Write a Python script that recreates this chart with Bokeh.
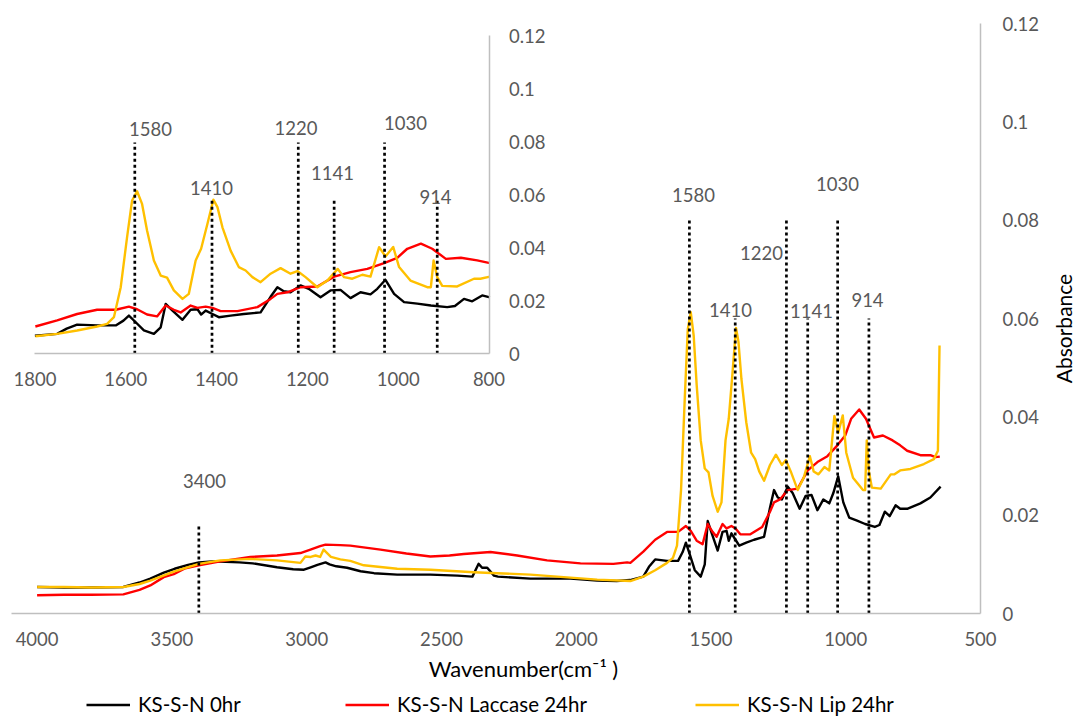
import math
from bokeh.plotting import figure
from bokeh.models import (Range1d, LinearAxis, FixedTicker, NumeralTickFormatter,
                          Label, Legend, LegendItem)
from bokeh.embed import file_html
from bokeh.resources import INLINE
from bokeh.core.properties import value

# ---------------- data ----------------
series_names = ["KS-S-N 0hr", "KS-S-N Laccase 24hr", "KS-S-N Lip 24hr"]

wn_0hr = [4000, 3900, 3800, 3680, 3620, 3580, 3530, 3490, 3440, 3400, 3350, 3300, 3250, 3200,
          3110, 3050, 3010, 2985, 2960, 2930, 2915, 2890, 2850, 2800, 2750, 2664, 2541, 2440,
          2385, 2362, 2349, 2330, 2305, 2290, 2170, 2021, 1922, 1850, 1800, 1751, 1730, 1707,
          1663, 1622, 1605, 1593, 1578, 1560, 1538, 1523, 1512, 1497, 1475, 1457, 1442, 1434,
          1424, 1409, 1395, 1369, 1340, 1303, 1281, 1266, 1252, 1237, 1215, 1197, 1171, 1149,
          1127, 1105, 1083, 1061, 1046, 1028, 1009, 987, 958, 928, 892, 875, 855, 837, 815,
          798, 772, 723, 686, 648]
abs_0hr = [0.0054, 0.0053, 0.0053, 0.0054, 0.0063, 0.0071, 0.0083, 0.0091, 0.0099, 0.0104,
           0.0106, 0.0105, 0.0104, 0.0102, 0.0094, 0.0090, 0.0089, 0.0094, 0.0099, 0.0104,
           0.0100, 0.0096, 0.0093, 0.0086, 0.0082, 0.0079, 0.0079, 0.0077, 0.0075, 0.0101,
           0.0093, 0.0093, 0.0077, 0.0075, 0.0071, 0.0071, 0.0067, 0.0066, 0.0068, 0.0075,
           0.0095, 0.0110, 0.0107, 0.0107, 0.0125, 0.0144, 0.0119, 0.0088, 0.0075, 0.0100,
           0.0188, 0.0163, 0.0128, 0.0166, 0.0168, 0.0148, 0.0163, 0.0150, 0.0138, 0.0144,
           0.0150, 0.0156, 0.0215, 0.0251, 0.0236, 0.0232, 0.0258, 0.0245, 0.0213, 0.0239,
           0.0241, 0.0210, 0.0232, 0.0224, 0.0245, 0.0279, 0.0226, 0.0195, 0.0189, 0.0182,
           0.0176, 0.0180, 0.0207, 0.0198, 0.0220, 0.0213, 0.0213, 0.0224, 0.0236, 0.0258]

wn_laccase = [4000, 3900, 3800, 3680, 3620, 3580, 3530, 3493, 3450, 3400, 3320, 3209, 3110,
              3023, 2986, 2950, 2930, 2875, 2838, 2726, 2630, 2541, 2470, 2417, 2318, 2219,
              2108, 1984, 1862, 1811, 1799, 1751, 1707, 1663, 1622, 1593, 1575, 1553, 1531,
              1512, 1494, 1479, 1457, 1442, 1424, 1409, 1391, 1354, 1310, 1281, 1266, 1244,
              1215, 1178, 1141, 1105, 1068, 1031, 1002, 980, 950, 925, 895, 862, 826, 798,
              772, 723, 686, 667, 651]
abs_laccase = [0.0037, 0.0038, 0.0038, 0.0039, 0.0048, 0.0057, 0.0074, 0.0080, 0.0092, 0.0098,
               0.0106, 0.0115, 0.0118, 0.0123, 0.0130, 0.0137, 0.0140, 0.0139, 0.0138, 0.0130,
               0.0122, 0.0116, 0.0118, 0.0121, 0.0125, 0.0118, 0.0108, 0.0102, 0.0101, 0.0104,
               0.0103, 0.0126, 0.0150, 0.0166, 0.0166, 0.0178, 0.0168, 0.0148, 0.0141, 0.0182,
               0.0166, 0.0156, 0.0182, 0.0173, 0.0178, 0.0173, 0.0161, 0.0161, 0.0176, 0.0207,
               0.0226, 0.0232, 0.0251, 0.0254, 0.0291, 0.0308, 0.0320, 0.0342, 0.0362, 0.0396,
               0.0415, 0.0396, 0.0358, 0.0362, 0.0352, 0.0342, 0.0331, 0.0322, 0.0322, 0.0318,
               0.0319]

wn_lip = [4000, 3900, 3800, 3680, 3620, 3580, 3493, 3400, 3320, 3209, 3110, 3023, 3005, 2985,
          2967, 2950, 2937, 2910, 2875, 2838, 2788, 2664, 2541, 2380, 2293, 2170, 2046, 1922,
          1799, 1751, 1707, 1663, 1641, 1626, 1611, 1597, 1586, 1575, 1564, 1553, 1538, 1523,
          1509, 1494, 1475, 1461, 1446, 1434, 1420, 1407, 1398, 1387, 1369, 1351, 1336, 1321,
          1303, 1281, 1259, 1237, 1222, 1204, 1178, 1156, 1133, 1119, 1101, 1079, 1061, 1042,
          1028, 1011, 998, 973, 936, 928, 922, 914, 903, 870, 833, 819, 798, 760, 710, 673,
          658, 652]
abs_lip = [0.0054, 0.0054, 0.0053, 0.0054, 0.0060, 0.0067, 0.0085, 0.0101, 0.0108, 0.0111,
           0.0108, 0.0103, 0.0116, 0.0115, 0.0118, 0.0115, 0.0130, 0.0115, 0.0110, 0.0107,
           0.0098, 0.0091, 0.0089, 0.0084, 0.0082, 0.0079, 0.0074, 0.0069, 0.0066, 0.0075,
           0.0088, 0.0103, 0.0113, 0.0138, 0.0251, 0.0440, 0.0578, 0.0613, 0.0565, 0.0465,
           0.0352, 0.0295, 0.0287, 0.0239, 0.0207, 0.0226, 0.0352, 0.0396, 0.0490, 0.0581,
           0.0553, 0.0477, 0.0389, 0.0327, 0.0314, 0.0289, 0.0270, 0.0302, 0.0323, 0.0302,
           0.0312, 0.0289, 0.0251, 0.0276, 0.0320, 0.0289, 0.0283, 0.0298, 0.0291, 0.0402,
           0.0367, 0.0403, 0.0327, 0.0276, 0.0251, 0.0251, 0.0352, 0.0289, 0.0256, 0.0254,
           0.0283, 0.0283, 0.0291, 0.0294, 0.0304, 0.0314, 0.0331, 0.0545]

main_x_ticks = [4000, 3500, 3000, 2500, 2000, 1500, 1000, 500]
inset_x_ticks = [1800, 1600, 1400, 1200, 1000, 800]
y_ticks = [0, 0.02, 0.04, 0.06, 0.08, 0.1, 0.12]

main_peaks = [3400, 1580, 1410, 1220, 1141, 1030, 914]
inset_peaks = [1580, 1410, 1220, 1141, 1030, 914]

# ---------------- layout constants (pixels) ----------------
W, H = 1075, 720
FL, FR, FT, FB = 11, 980, 23, 613           # main plot area
X_LEFT, X_RIGHT = 4095, 500                  # main x axis extent (reversed)
IL, IR, IT, IB = 34.4, 488.5, 35.0, 353.3    # inset plot area
IX_LEFT, IX_RIGHT = 1800, 800
Y_TOP = 0.12

def mx(px):
    return X_LEFT - (px - FL) * (X_LEFT - X_RIGHT) / (FR - FL)

def my(py):
    return (FB - py) * Y_TOP / (FB - FT)

def ix(px):
    return IX_LEFT - (px - IL) * (IX_LEFT - IX_RIGHT) / (IR - IL)

def iy(py):
    return (IB - py) * Y_TOP / (IB - IT)

main_line_top_px = [523, 220, 318, 220, 318, 220, 318]
main_label_px = [(204, 480), (693, 194), (730, 309), (761, 252), (811, 310), (837, 183), (867, 299)]
inset_line_top_px = [142, 198, 142, 198, 142, 198]
inset_label_px = [(150, 128), (211, 187), (295.5, 127), (332, 172), (405, 122), (435, 196)]

FONT = "Lato"
TICK_SIZE = "18.5px"
GRAY = "#595959"
AXIS_GRAY = "#BFBFBF"
DOT = "3 3"
LW = 2.4
colors = ["#000000", "#FF0000", "#FFC000"]

# the frame covers the whole canvas; every axis is drawn at a fixed location
p = figure(width=W, height=H, output_backend="svg", toolbar_location=None,
           x_range=Range1d(mx(0), mx(W)), y_range=Range1d(my(H), my(0)),
           x_axis_location=None, y_axis_location=None,
           min_border=0, min_border_left=0, min_border_right=0,
           min_border_top=0, min_border_bottom=0)
p.outline_line_color = None
p.grid.visible = False
p.background_fill_color = "white"
p.border_fill_color = "white"

p.extra_x_ranges = {"inset": Range1d(ix(0), ix(W))}
p.extra_y_ranges = {"inset": Range1d(iy(H), iy(0))}

def style_axis(ax, standoff):
    ax.axis_line_color = AXIS_GRAY
    ax.axis_line_width = 1.5
    ax.major_tick_line_color = None
    ax.minor_tick_line_color = None
    ax.major_tick_out = 0
    ax.major_tick_in = 0
    ax.major_label_text_font = FONT
    ax.major_label_text_font_size = TICK_SIZE
    ax.major_label_text_color = GRAY
    ax.major_label_standoff = standoff

# main axes
xa = LinearAxis(fixed_location=0, bounds=(X_RIGHT, X_LEFT), ticker=FixedTicker(ticks=main_x_ticks))
style_axis(xa, 18)
p.add_layout(xa, "below")
ya = LinearAxis(fixed_location=X_RIGHT, bounds=(0, Y_TOP), ticker=FixedTicker(ticks=y_ticks),
                formatter=NumeralTickFormatter(format="0.[00]"))
style_axis(ya, 22)
p.add_layout(ya, "right")

# ---------------- main curves ----------------
data = [(wn_0hr, abs_0hr), (wn_laccase, abs_laccase), (wn_lip, abs_lip)]
main_renderers = []
for (wn, ab), c in zip(data, colors):
    r = p.line(wn, ab, line_color=c, line_width=LW, line_join="round")
    main_renderers.append(r)

p.segment(x0=main_peaks, y0=[0] * len(main_peaks), x1=main_peaks,
          y1=[my(t) for t in main_line_top_px],
          line_color="black", line_width=2.7, line_dash=value(DOT))
p.text(x=[mx(a) for a, b in main_label_px], y=[my(b) for a, b in main_label_px],
       text=[str(v) for v in main_peaks], text_font=value(FONT), text_font_size=TICK_SIZE,
       text_color=GRAY, text_align="center", text_baseline="middle")

# ---------------- inset ----------------
for (wn, ab), c in zip(data, colors):
    sub = [(w, a) for w, a in zip(wn, ab) if 795 <= w <= 1800]
    p.line([s[0] for s in sub], [s[1] for s in sub], line_color=c, line_width=LW,
           line_join="round", x_range_name="inset", y_range_name="inset")

p.segment(x0=inset_peaks, y0=[0] * len(inset_peaks), x1=inset_peaks,
          y1=[iy(t) for t in inset_line_top_px],
          line_color="black", line_width=2.7, line_dash=value(DOT),
          x_range_name="inset", y_range_name="inset")
p.text(x=[ix(a) for a, b in inset_label_px], y=[iy(b) for a, b in inset_label_px],
       text=[str(v) for v in inset_peaks], text_font=value(FONT), text_font_size=TICK_SIZE,
       text_color=GRAY, text_align="center", text_baseline="middle",
       x_range_name="inset", y_range_name="inset")

ixa = LinearAxis(x_range_name="inset", y_range_name="inset", fixed_location=0,
                 bounds=(IX_RIGHT, IX_LEFT), ticker=FixedTicker(ticks=inset_x_ticks))
style_axis(ixa, 18)
p.add_layout(ixa, "below")
iya = LinearAxis(x_range_name="inset", y_range_name="inset", fixed_location=IX_RIGHT,
                 bounds=(0, Y_TOP), ticker=FixedTicker(ticks=y_ticks),
                 formatter=NumeralTickFormatter(format="0.[00]"))
style_axis(iya, 20)
p.add_layout(iya, "right")

# ---------------- axis titles ----------------
p.add_layout(Label(x=mx(523), y=my(668), text="Wavenumber(cm\u207b\u00b9 )",
                   text_font=FONT, text_font_size="22px", text_color="#000000",
                   text_align="center", text_baseline="middle"))
p.add_layout(Label(x=mx(1063), y=my(328), text="Absorbance", angle=math.pi / 2,
                   text_font=FONT, text_font_size="21px", text_color="#000000",
                   text_align="center", text_baseline="middle"))

# ---------------- legend (three single-item legends) ----------------
legend_x = [86, 345, 695]
for name, r, lx in zip(series_names, main_renderers, legend_x):
    lg = Legend(items=[LegendItem(label=name, renderers=[r])],
                location=(lx, H - 716), orientation="horizontal",
                glyph_width=44, glyph_height=21, label_height=21, label_standoff=8,
                padding=0, margin=0, spacing=0,
                label_text_font=FONT, label_text_font_size="20.5px",
                label_text_color="#000000",
                border_line_color=None, background_fill_alpha=0)
    p.add_layout(lg, "center")

open("out.html", "w").write(file_html(p, INLINE))
